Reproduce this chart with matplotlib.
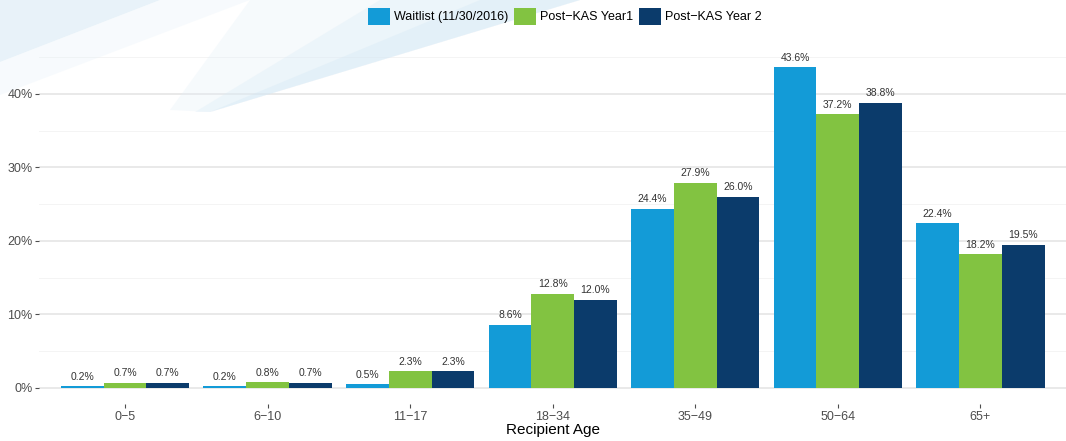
import numpy as np
import matplotlib.pyplot as plt
from matplotlib.patches import Polygon
from matplotlib.ticker import FuncFormatter, MultipleLocator

ages = ["0\u22125", "6\u221210", "11\u221217", "18\u221234", "35\u221249", "50\u221264", "65+"]
series = ["Waitlist (11/30/2016)", "Post\u2212KAS Year1", "Post\u2212KAS Year 2"]
waitlist = [0.2, 0.2, 0.5, 8.6, 24.4, 43.6, 22.4]
kas_y1 = [0.7, 0.8, 2.3, 12.8, 27.9, 37.2, 18.2]
kas_y2 = [0.7, 0.7, 2.3, 12.0, 26.0, 38.8, 19.5]
colors = ["#139BD7", "#82C341", "#0B3B6B"]

plt.rcParams["font.family"] = ["Liberation Sans", "DejaVu Sans"]

W, H = 1066, 441
fig = plt.figure(figsize=(W / 100, H / 100), dpi=100)


def swoosh(pts, color, alpha):
    # pts in pixel coords from the top-left corner
    xy = [(px / W, 1 - py / H) for px, py in pts]
    fig.patches.append(Polygon(xy, closed=True, transform=fig.transFigure,
                               facecolor=color, alpha=alpha, edgecolor="none", zorder=0))


# faint decorative background swoosh in the top-left, layered to fake a fade
swoosh([(0, 0), (160, 0), (0, 62)], "#D3E7F4", 0.5)
swoosh([(0, 62), (160, 0), (250, 0), (0, 95)], "#E6F1F9", 0.3)
swoosh([(250, 0), (580, 0), (210, 112), (170, 110)], "#E3EFF8", 0.3)
swoosh([(380, 0), (580, 0), (210, 112), (195, 112)], "#D8EAF6", 0.3)
swoosh([(480, 0), (580, 0), (210, 112)], "#D0E6F4", 0.3)

ax = fig.add_axes([0.037, 0.084, 0.963, 0.80])
ax.patch.set_alpha(0)

x = np.arange(len(ages))
w = 0.3
for i, (vals, name) in enumerate(zip([waitlist, kas_y1, kas_y2], series)):
    pos = x + (i - 1) * w
    ax.bar(pos, vals, width=w, color=colors[i], label=name, zorder=3)
    for px, v in zip(pos, vals):
        ax.text(px, v + 0.6, f"{v:.1f}%", ha="center", va="bottom",
                fontsize=7.5, color="#333333", zorder=4)

ax.set_xlim(-0.6, len(ages) - 0.4)
ax.set_ylim(-2.18, 45.8)
ax.yaxis.set_major_locator(MultipleLocator(10))
ax.yaxis.set_minor_locator(MultipleLocator(5))
ax.yaxis.set_major_formatter(FuncFormatter(lambda v, p: f"{v:.0f}%"))
ax.set_xticks(x)
ax.set_xticklabels(ages)

ax.grid(axis="y", which="major", color="#E3E3E3", linewidth=1.1, zorder=0)
ax.grid(axis="y", which="minor", color="#F2F2F2", linewidth=0.6, zorder=0)
ax.tick_params(axis="both", which="major", colors="#4D4D4D", labelsize=9,
               length=3, width=0.8, pad=2)
ax.tick_params(axis="y", which="minor", length=0)
for s in ax.spines.values():
    s.set_visible(False)

ax.set_xlabel("Recipient Age", fontsize=11, color="black", labelpad=0)

leg = fig.legend(loc="upper center", bbox_to_anchor=(0.53, 1.0), ncol=3,
                 frameon=False, fontsize=9, handlelength=1.75, handleheight=1.75,
                 handletextpad=0.3, columnspacing=0.5, borderaxespad=0.2)

fig.savefig("out.png", dpi=100)
